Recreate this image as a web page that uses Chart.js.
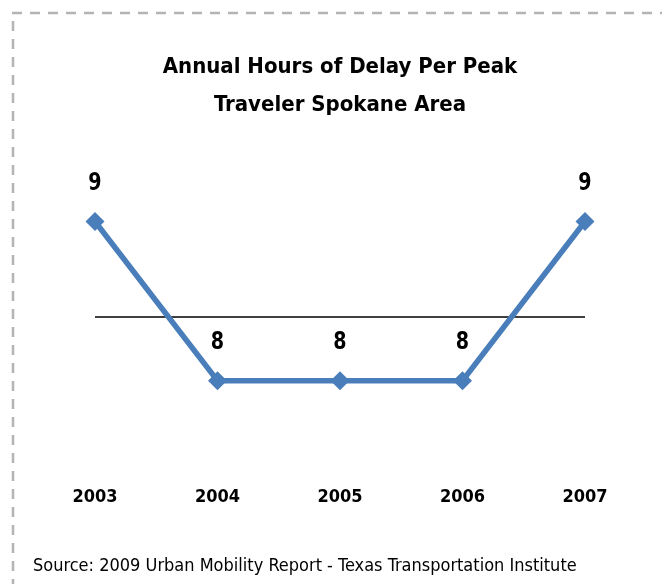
<!DOCTYPE html>
<html>
<head>
<meta charset="utf-8">
<script src="https://cdn.jsdelivr.net/npm/chart.js@4/dist/chart.umd.min.js"></script>
<style>
html,body{margin:0;padding:0;background:#fff;}
#wrap{width:666px;height:584px;position:relative;}
</style>
</head>
<body>
<div id="wrap"><canvas id="c" width="666" height="584"></canvas></div>
<script>
const categories = ['2003', '2004', '2005', '2006', '2007'];
const delayHours = [9, 8, 8, 8, 9];
const axisCrossValue = [8.4, 8.4, 8.4, 8.4, 8.4];
const titleLines = ['Annual Hours of Delay Per Peak', 'Traveler Spokane Area'];
const sourceText = 'Source: 2009 Urban Mobility Report - Texas Transportation Institute';

const FONT = '"DejaVu Sans Condensed", "Liberation Sans Narrow", sans-serif';

const decorPlugin = {
  id: 'decor',
  beforeDraw(chart) {
    const ctx = chart.ctx;
    ctx.save();
    ctx.fillStyle = '#fff';
    ctx.fillRect(0, 0, chart.width, chart.height);
    ctx.strokeStyle = '#B4B4B4';
    ctx.lineWidth = 2.5;
    ctx.setLineDash([10, 8]);
    ctx.beginPath();
    ctx.moveTo(12, 13); ctx.lineTo(662, 13);
    ctx.moveTo(13, 21); ctx.lineTo(13, 584);
    ctx.stroke();
    ctx.restore();
  },
  afterDraw(chart) {
    const ctx = chart.ctx;
    ctx.save();
    const meta = chart.getDatasetMeta(0);
    ctx.fillStyle = '#000';
    ctx.font = 'bold 25px ' + FONT;
    ctx.textAlign = 'center';
    ctx.textBaseline = 'middle';
    meta.data.forEach((pt, i) => {
      ctx.save();
      ctx.translate(pt.x, pt.y - 38);
      ctx.scale(0.85, 1);
      ctx.fillText(String(delayHours[i]), 0, 0);
      ctx.restore();
    });
    ctx.font = '18px ' + FONT;
    ctx.textAlign = 'left';
    ctx.fillText(sourceText, 33, 566);
    ctx.restore();
  }
};

new Chart(document.getElementById('c'), {
  type: 'line',
  data: {
    labels: categories,
    datasets: [
      {
        data: delayHours,
        borderColor: '#4A7EBB',
        backgroundColor: '#4A7EBB',
        borderWidth: 5.5,
        pointStyle: 'rectRot',
        pointRadius: 9.5,
        pointHoverRadius: 9.5,
        pointBorderWidth: 0,
        tension: 0,
        order: 1
      },
      {
        data: axisCrossValue,
        borderColor: '#000',
        borderWidth: 1.6,
        pointRadius: 0,
        tension: 0,
        order: 2
      }
    ]
  },
  plugins: [decorPlugin],
  options: {
    responsive: false,
    animation: false,
    events: [],
    layout: { padding: { left: 95, right: 81, top: 0, bottom: 50 } },
    plugins: {
      legend: { display: false },
      tooltip: { enabled: false },
      title: {
        display: true,
        text: titleLines,
        color: '#000',
        font: { family: FONT, size: 22, weight: 'bold', lineHeight: 1.7 },
        padding: { top: 49, bottom: 34 }
      }
    },
    scales: {
      x: {
        offset: false,
        grid: { display: false, drawTicks: false },
        border: { display: false },
        ticks: {
          color: '#000',
          padding: 26,
          font: { family: FONT, size: 18, weight: 'bold', lineHeight: 1.2 },
          maxRotation: 0
        }
      },
      y: {
        display: false,
        min: 7.5,
        max: 9.4
      }
    }
  }
});
</script>
</body>
</html>
